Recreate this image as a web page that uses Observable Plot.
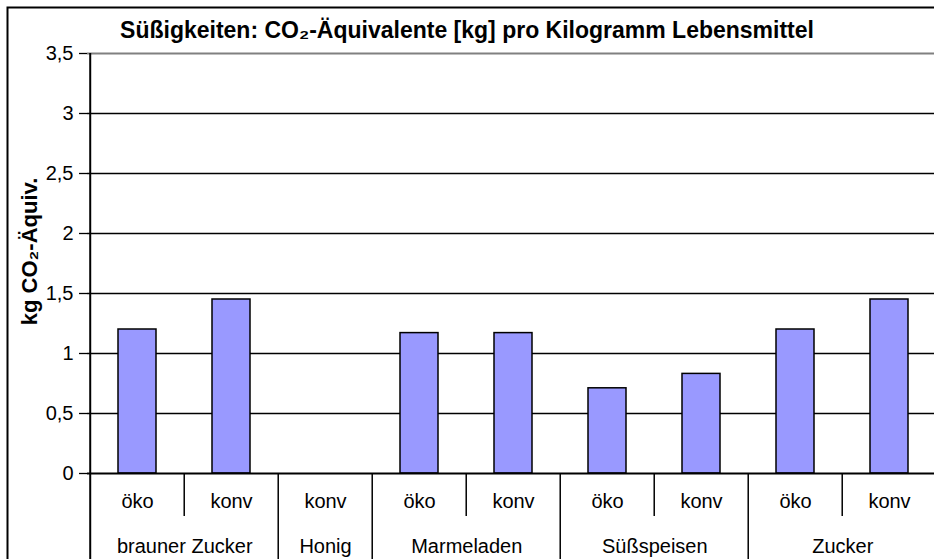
<!DOCTYPE html>
<html><head><meta charset="utf-8">
<script src="https://cdn.jsdelivr.net/npm/d3@7"></script>
<script src="https://cdn.jsdelivr.net/npm/@observablehq/plot@0.6"></script>
<style>
html,body{margin:0;padding:0;background:#fff;overflow:hidden;}
#chart svg{display:block;overflow:hidden;}
</style></head><body><div id="chart"></div>
<script>
// ---- data ----
const groups = ["brauner Zucker","brauner Zucker","Honig","Marmeladen","Marmeladen","Süßspeisen","Süßspeisen","Zucker","Zucker"];
const subs   = ["öko","konv","konv","öko","konv","öko","konv","öko","konv"];
const values = [1.2, 1.45, 0, 1.17, 1.17, 0.71, 0.83, 1.2, 1.45];
const yTicks = [0, 0.5, 1, 1.5, 2, 2.5, 3, 3.5];
const title  = "Süßigkeiten: CO₂-Äquivalente [kg] pro Kilogramm Lebensmittel";
const yLabel = "kg CO₂-Äquiv.";

// ---- derived tables ----
const rows = groups.map((g, i) => ({key: g + "|" + subs[i], group: g, sub: subs[i], value: values[i]}));
const keys = rows.map(d => d.key);
const groupInfo = [];
rows.forEach((r, i) => {
  const last = groupInfo[groupInfo.length - 1];
  if (last && last.group === r.group) last.count++;
  else groupInfo.push({group: r.group, first: r.key, count: 1});
});
const groupSepKeys = groupInfo.slice(1).map(g => g.first);
const subSepKeys = rows.filter((r, i) => i > 0 && rows[i - 1].group === r.group).map(r => r.key);

const W = 934, H = 559, mL = 87, mR = -4, mT = 53, mB = 86;
const step = (W - mL - mR) / keys.length;
const plotH = H - mT - mB;
const font = "'Liberation Sans', Arial, sans-serif";

const marks = [
  Plot.frame({stroke: "black", strokeWidth: 2, insetLeft: -80, insetTop: -46, insetBottom: -90, insetRight: -4}),
  Plot.ruleY(yTicks.filter(d => d > 0 && d < 3.5), {stroke: "black", strokeWidth: 1.3}),
  Plot.ruleY([3.5], {stroke: "#808080", strokeWidth: 2}),
  Plot.barY(rows.filter(d => d.value > 0), {x: "key", y: "value", fill: "#9999FF", stroke: "black", strokeWidth: 1.5}),
  Plot.ruleY([0], {stroke: "black", strokeWidth: 2}),
  Plot.axisY(yTicks, {anchor: "left", tickSize: 8, tickPadding: 6, tickFormat: d => String(d).replace(".", ","), fontSize: 20, label: null, stroke: "black", strokeWidth: 1.3}),
  // y axis line, extended down through the category rows
  Plot.ruleX([keys[0]], {x: d => d, dx: -step / 2, stroke: "black", strokeWidth: 2, insetBottom: -mB}),
  // group separators
  Plot.ruleX(groupSepKeys, {x: d => d, dx: -step / 2, stroke: "black", strokeWidth: 1.5, insetTop: plotH, insetBottom: -mB}),
  // sub separators
  Plot.ruleX(subSepKeys, {x: d => d, dx: -step / 2, stroke: "black", strokeWidth: 1.5, insetTop: plotH, insetBottom: -43}),
  // sub labels
  Plot.text(rows, {x: "key", text: "sub", frameAnchor: "bottom", lineAnchor: "middle", dy: 28.5, fontSize: 20, fill: "black"}),
  // group labels
  ...groupInfo.map(g => Plot.text([g], {x: d => d.first, text: d => d.group, dx: (g.count - 1) * step / 2, frameAnchor: "bottom", lineAnchor: "middle", dy: 73.5, fontSize: 20, fill: "black"})),
  // title
  Plot.text([title], {frameAnchor: "top", lineAnchor: "middle", textAnchor: "middle", dx: -46, dy: -22.5, fontSize: 23, fontWeight: "bold", fill: "black"}),
  // y label
  Plot.text([yLabel], {frameAnchor: "left", lineAnchor: "middle", textAnchor: "middle", rotate: -90, dx: -58, dy: -12, fontSize: 22, fontWeight: "bold", fill: "black"})
];

const chart = Plot.plot({
  width: W, height: H,
  marginLeft: mL, marginRight: mR, marginTop: mT, marginBottom: mB,
  style: {fontFamily: font, fontSize: "20px", color: "black", background: "white", overflow: "hidden"},
  x: {type: "band", domain: keys, paddingInner: 0.6, paddingOuter: 0.3, axis: null},
  y: {domain: [0, 3.5]},
  marks
});
document.getElementById("chart").appendChild(chart);
</script>
</body></html>
